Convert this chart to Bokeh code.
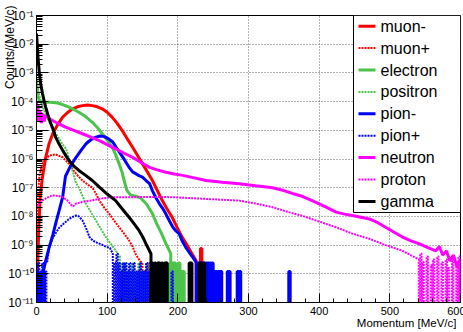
from bokeh.plotting import figure
from bokeh.models import FixedTicker, Range1d, LinearScale, Label, CustomJSTickFormatter
from bokeh.embed import file_html
from bokeh.resources import INLINE
from bokeh.core.properties import value

FONT = "Liberation Sans"

# ---- axes ----
x_major = [0, 100, 200, 300, 400, 500, 600]
x_minor = list(range(0, 601, 20))
decades = list(range(-11, 0))          # exponents of the labelled decades

# ---- spectra: momentum [MeV/c] and log10(counts per MeV/c) ----
muon_minus_p = [0, 1, 3, 5, 8, 13, 18, 23, 30, 37, 44, 51, 58, 65, 72, 79, 86, 93, 100, 107,
                114, 121, 128, 136, 143, 150, 157, 164, 171, 178, 185, 192, 199, 206, 213, 220, 226]
muon_minus_lg = [-11.5, -10.3, -8.6, -7.4, -6.7, -5.95, -5.45, -5.12, -4.8, -4.54, -4.38, -4.25,
                 -4.18, -4.14, -4.12, -4.14, -4.18, -4.25, -4.37, -4.54, -4.75, -5.0, -5.28, -5.59,
                 -5.88, -6.17, -6.45, -6.75, -7.1, -7.45, -7.75, -8.03, -8.38, -8.72, -9.0, -9.3, -9.55]

muon_plus_p = [0, 1, 2, 4, 8, 13, 18, 27, 37, 46, 56, 65, 72, 79, 84, 89, 96, 103, 110, 117,
               124, 131, 136, 140, 145, 150]
muon_plus_lg = [-11.5, -8.5, -7.3, -6.6, -6.17, -6.0, -5.88, -5.84, -5.94, -6.17, -6.52, -6.75,
                -6.88, -7.0, -7.2, -7.45, -7.7, -7.91, -8.15, -8.38, -8.6, -8.84, -9.05, -9.3,
                -9.5, -9.65]

electron_p = [0, 1, 2, 4, 10, 20, 30, 41, 50, 60, 70, 79, 86, 93, 100, 107, 112, 117, 121, 124,
              128, 133, 140, 147, 155, 164, 170, 176, 183, 190]
electron_lg = [-3.2, -3.5, -3.8, -4.0, -4.02, -4.02, -4.05, -4.14, -4.24, -4.37, -4.53, -4.72,
               -4.9, -5.12, -5.33, -5.59, -5.85, -6.17, -6.45, -6.75, -7.1, -7.25, -7.3, -7.35,
               -7.55, -7.9, -8.25, -8.55, -8.94, -9.3]

positron_p = [0, 2, 5, 9, 13, 18, 23, 27, 32, 37, 42, 45, 49, 52, 56, 60, 65, 70, 77, 84, 91,
              98, 105, 112, 118]
positron_lg = [-3.3, -3.6, -3.9, -4.2, -4.45, -4.7, -4.9, -5.1, -5.3, -5.5, -5.65, -5.9, -6.2,
               -6.5, -6.85, -7.0, -7.28, -7.56, -7.85, -8.14, -8.43, -8.72, -8.95, -9.19, -9.4]

pion_minus_p = [0, 4, 8, 13, 18, 23, 27, 32, 37, 41, 48, 56, 63, 70, 77, 84, 90, 96, 102, 108,
                113, 119, 125, 131, 136, 141, 145, 150, 155, 160, 164, 169, 174, 178, 183, 188,
                193, 197, 202, 206, 211, 216, 221, 226]
pion_minus_lg = [-11.5, -10.8, -10.1, -9.55, -9.07, -8.65, -8.26, -7.8, -7.33, -6.6, -6.25,
                 -5.94, -5.7, -5.47, -5.33, -5.24, -5.2, -5.22, -5.3, -5.41, -5.6, -5.82, -6.05,
                 -6.29, -6.45, -6.52, -6.58, -6.63, -6.75, -6.86, -7.1, -7.35, -7.56, -7.7,
                 -7.91, -8.15, -8.38, -8.5, -8.61, -8.85, -9.07, -9.25, -9.42, -9.6]

pion_plus_p = [15, 18, 23, 28, 32, 37, 42, 46, 51, 56, 60, 65, 70, 75, 80, 86, 92, 98, 104, 108]
pion_plus_lg = [-9.6, -9.1, -8.75, -8.55, -8.4, -8.28, -8.18, -8.09, -8.02, -7.97, -8.0, -8.14,
                -8.4, -8.72, -8.85, -8.92, -8.98, -9.05, -9.1, -9.3]

neutron_p = [0, 1, 2, 3, 4, 5, 6, 7, 8, 9, 10, 11, 12, 14, 16, 18, 22, 27, 34, 41, 53, 65, 77,
             89, 100, 112, 124, 136, 148, 160, 171, 183, 195, 207, 220, 240, 263, 287, 310, 334,
             350, 362, 376, 390, 400, 412, 424, 436, 447, 459, 471, 483, 494, 506, 518, 530,
             542, 553, 560, 565, 570, 575, 580, 585, 590, 595, 600]
neutron_lg = [-4.0, -4.5, -4.1, -4.7, -4.3, -4.6, -4.35, -4.75, -4.4, -4.6, -4.45, -4.7, -4.5,
              -4.55, -4.5, -4.6, -4.65, -4.72, -4.8, -4.89, -5.0, -5.12, -5.24, -5.36, -5.5,
              -5.65, -5.8, -5.94, -6.12, -6.29, -6.38, -6.46, -6.52, -6.57, -6.64, -6.75, -6.81,
              -6.86, -6.93, -7.0, -7.1, -7.2, -7.3, -7.45, -7.56, -7.7, -7.85, -7.92, -7.97,
              -8.03, -8.09, -8.22, -8.38, -8.55, -8.72, -8.85, -8.96, -9.08, -9.15, -9.2, -9.05,
              -9.35, -9.2, -9.55, -9.35, -9.75, -9.5]

proton_p = [0, 4, 8, 15, 22, 30, 37, 44, 49, 52, 56, 65, 77, 89, 100, 112, 136, 160, 192, 216,
            240, 263, 287, 310, 334, 357, 376, 400, 424, 447, 471, 494, 518, 541]
proton_lg = [-7.7, -7.55, -7.45, -7.35, -7.27, -7.28, -7.33, -7.45, -7.6, -7.65, -7.55, -7.5,
             -7.45, -7.39, -7.35, -7.33, -7.33, -7.32, -7.33, -7.36, -7.39, -7.42, -7.45, -7.55,
             -7.68, -7.85, -7.98, -8.18, -8.38, -8.6, -8.78, -9.0, -9.2, -9.5]

gamma_p = [0, 1, 2, 3, 4, 6, 8.5, 11, 13, 16, 20, 24, 27, 32, 37, 42, 46, 53, 60, 70, 79, 89,
           100, 112, 120, 131, 138, 145, 150, 155, 162]
gamma_lg = [-1.63, -2.0, -2.4, -2.7, -3.0, -3.4, -3.72, -4.0, -4.19, -4.45, -4.75, -5.0, -5.24,
            -5.48, -5.7, -5.9, -6.05, -6.25, -6.4, -6.58, -6.75, -6.98, -7.22, -7.45, -7.7,
            -8.03, -8.25, -8.49, -8.7, -8.96, -9.3]

# ---- sparse high-momentum bins (one or two entries), same units ----
muon_minus_tail_p = [229, 233, 261]
muon_minus_tail_lg = [-9.62, -9.12, -9.92]
muon_plus_tail_p = [153, 156, 159, 162, 165, 168]
muon_plus_tail_lg = [-9.92, -9.92, -9.62, -9.92, -9.92, -9.92]
electron_tail_p = [184, 187, 190, 193, 196, 199, 202, 205, 208]
electron_tail_lg = [-9.62, -9.92, -9.62, -9.62, -9.62, -9.92, -9.62, -9.92, -9.92]
positron_tail_p = [121, 124, 127, 130, 133, 136, 139, 142, 145, 148, 151, 154, 157, 160, 166,
                   172, 178, 184, 190, 196]
positron_tail_lg = [-9.62, -9.92, -9.62, -9.92, -9.92, -9.62, -9.92, -9.92, -9.62, -9.92,
                    -9.92, -9.92, -9.62, -9.92, -9.92, -9.92, -9.92, -9.92, -9.92, -9.92]
pion_minus_tail_p = [231, 234, 237, 240, 243, 246, 249, 252, 255, 258, 261, 271, 273, 285, 288, 358]
pion_minus_tail_lg = [-9.62, -9.62, -9.62, -9.62, -9.62, -9.62, -9.62, -9.92, -9.92, -9.92,
                      -9.92, -9.92, -9.92, -9.92, -9.92, -9.92]
pion_plus_tail_p = [1, 3, 5, 7, 9, 11, 13, 111, 114, 117, 120, 123, 126, 129, 132, 135, 138,
                    141, 144, 147, 150, 153, 156, 159, 162, 192]
pion_plus_tail_lg = [-9.92, -9.62, -9.92, -9.92, -9.62, -9.92, -9.92, -9.62, -9.3, -9.62, -9.92,
                     -9.62, -9.62, -9.92, -9.62, -9.92, -9.62, -9.92, -9.92, -9.62, -9.92, -9.92,
                     -9.62, -9.92, -9.92, -9.92]
proton_tail_p = [544, 547, 553, 559, 562, 568, 574, 580, 583, 589, 595, 598]
proton_tail_lg = [-9.3, -9.6, -9.4, -9.7, -9.5, -9.4, -9.6, -9.5, -9.8, -9.45, -9.6, -9.4]
gamma_tail_p = [164, 166, 168, 170, 172, 174, 176, 178, 182, 184, 217, 219, 231, 233, 235, 237]
gamma_tail_lg = [-9.62, -9.92, -9.62, -9.92, -9.62, -9.62, -9.92, -9.62, -9.62, -9.62, -9.62,
                 -9.62, -9.62, -9.62, -9.92, -9.62]

FLOOR = 1e-12   # empty bins are drawn down past the bottom of the log axis
HALF_BIN = 1.0

RED, GREEN, BLUE, MAGENTA, BLACK = "#ff0000", "#4cc44c", "#0000ff", "#ff00ff", "#000000"

series = [
    ("muon-", muon_minus_p, muon_minus_lg, muon_minus_tail_p, muon_minus_tail_lg, RED, "solid"),
    ("muon+", muon_plus_p, muon_plus_lg, muon_plus_tail_p, muon_plus_tail_lg, RED, "dotted"),
    ("electron", electron_p, electron_lg, electron_tail_p, electron_tail_lg, GREEN, "solid"),
    ("positron", positron_p, positron_lg, positron_tail_p, positron_tail_lg, GREEN, "dotted"),
    ("pion-", pion_minus_p, pion_minus_lg, pion_minus_tail_p, pion_minus_tail_lg, BLUE, "solid"),
    ("pion+", pion_plus_p, pion_plus_lg, pion_plus_tail_p, pion_plus_tail_lg, BLUE, "dotted"),
    ("neutron", neutron_p, neutron_lg, [], [], MAGENTA, "solid"),
    ("proton", proton_p, proton_lg, proton_tail_p, proton_tail_lg, MAGENTA, "dotted"),
    ("gamma", gamma_p, gamma_lg, gamma_tail_p, gamma_tail_lg, BLACK, "solid"),
]

SOLID_W, DOT_W, DOT_DASH = 3, 2, "2 1"

FRAME_W, FRAME_H = 424, 287

p = figure(frame_width=FRAME_W, frame_height=FRAME_H, title=None,
           x_range=Range1d(0, 600), y_range=Range1d(1e-11, 1e-1), y_axis_type="log",
           output_backend="svg", toolbar_location=None,
           min_border_left=34, min_border_right=5, min_border_top=15, min_border_bottom=30,
           background_fill_color="white", border_fill_color="white")
p.outline_line_color = "black"
p.outline_line_width = 1

# pixel coordinate system of the frame (origin top-left), used for the legend and x title
p.extra_x_ranges = {"px": Range1d(0, FRAME_W)}
p.extra_y_ranges = {"px": Range1d(FRAME_H, 0)}
p.extra_x_scales = {"px": LinearScale()}
p.extra_y_scales = {"px": LinearScale()}

# axes: ROOT-like ticks pointing into the frame
xa = p.xaxis[0]
xa.ticker = FixedTicker(ticks=x_major, minor_ticks=x_minor)
xa.major_tick_in, xa.major_tick_out = 9, 0
xa.minor_tick_in, xa.minor_tick_out = 4, 0
xa.major_label_standoff = 4
xa.major_label_text_font = FONT
xa.major_label_text_font_size = "11px"
xa.major_label_text_color = "black"
xa.axis_line_color = "black"
xa.major_tick_line_color = "black"
xa.minor_tick_line_color = "black"

y_minor = [m * 10.0 ** e for e in range(-11, -1) for m in range(2, 10)]
ya = p.yaxis[0]
ya.ticker = FixedTicker(ticks=[10.0 ** e for e in decades], minor_ticks=y_minor)
ya.major_tick_in, ya.major_tick_out = 12, 0
ya.minor_tick_in, ya.minor_tick_out = 6, 0
# decade labels written as 10 with a superscript exponent
ya.formatter = CustomJSTickFormatter(code="""
    const sup = {"-": "\u207b", "0": "\u2070", "1": "\u00b9", "2": "\u00b2", "3": "\u00b3",
                 "4": "\u2074", "5": "\u2075", "6": "\u2076", "7": "\u2077", "8": "\u2078",
                 "9": "\u2079"};
    const e = Math.round(Math.log10(tick));
    return "10" + String(e).split("").map((c) => sup[c]).join("");
""")
ya.major_label_standoff = 3
ya.major_label_text_font = FONT
ya.major_label_text_font_size = "12px"
ya.major_label_text_color = "black"
ya.axis_line_color = "black"
ya.major_tick_line_color = "black"
ya.minor_tick_line_color = "black"

# y title: ROOT puts it at the top of the axis, next to the decade labels; the axis centres
# its label, so it is led by no-break spaces and pulled in over the label column
Y_TITLE = "Counts/(MeV/c)"
Y_TITLE_FS = 12
LEAD = int(round((2 * (FRAME_H / 2 + 10) - 6.946 * Y_TITLE_FS) / (0.278 * Y_TITLE_FS)))
ya.axis_label = "\u00a0" * LEAD + Y_TITLE
ya.axis_label_text_font = FONT
ya.axis_label_text_font_style = "normal"
ya.axis_label_text_font_size = f"{Y_TITLE_FS}px"
ya.axis_label_text_color = "black"
ya.axis_label_standoff = -12

p.xgrid.ticker = FixedTicker(ticks=x_major)
p.ygrid.ticker = FixedTicker(ticks=[10.0 ** e for e in decades])
for g in (p.xgrid, p.ygrid):
    g.grid_line_color = "#666666"
    g.grid_line_dash = "1 2"
    g.grid_line_width = 1


def lin(lgs):
    return [10.0 ** v for v in lgs]


for name, ps, lgs, tps, tlgs, color, style in series:
    solid = style == "solid"
    lw = SOLID_W if solid else DOT_W
    dash = "solid" if solid else DOT_DASH
    xs = list(ps) + [ps[-1]]
    ys = lin(lgs) + [FLOOR]
    p.line(xs, ys, line_color=color, line_width=lw, line_dash=dash)
    if tps:
        bx, by = [], []
        for pc, v in zip(tps, lin(tlgs)):
            bx.append([pc - HALF_BIN, pc - HALF_BIN, pc + HALF_BIN, pc + HALF_BIN])
            by.append([FLOOR, v, v, FLOOR])
        p.multi_line(bx, by, line_color=color, line_width=lw, line_dash=dash)

# ---- legend ----
LEG_L, LEG_R, LEG_T, LEG_B = 317, FRAME_W, 0, 197
p.quad(left=[LEG_L], right=[LEG_R], top=[LEG_T], bottom=[LEG_B], fill_color="white",
       line_color="black", line_width=1, x_range_name="px", y_range_name="px")
for i, (name, ps, lgs, tps, tlgs, color, style) in enumerate(series):
    yc = LEG_T + 10.7 + i * 21.9
    solid = style == "solid"
    p.segment(x0=[LEG_L + 5], x1=[LEG_L + 22], y0=[yc], y1=[yc], line_color=color,
              line_width=SOLID_W if solid else DOT_W,
              line_dash="solid" if solid else DOT_DASH,
              x_range_name="px", y_range_name="px")
    p.text(x=[LEG_L + 27], y=[yc], text=[name], text_font=value(FONT), text_font_size="16px",
           text_baseline="middle", text_align="left", text_color="black",
           x_range_name="px", y_range_name="px")

# x axis title, right-aligned under the axis; kept in a side panel so the frame does not clip it
p.add_layout(Label(x=FRAME_W - 4, y=FRAME_H + 20, x_range_name="px", y_range_name="px",
                   text="Momentum [MeV/c]", text_font=FONT, text_font_size="11.5px",
                   text_align="right", text_baseline="alphabetic", text_color="black"), "above")

open("out.html", "w").write(file_html(p, INLINE))
